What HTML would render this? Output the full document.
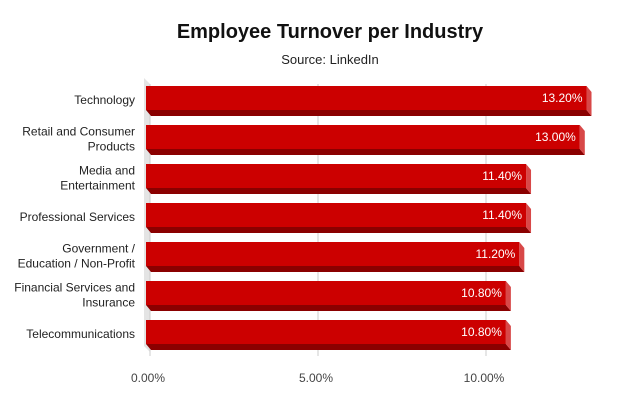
<!DOCTYPE html>
<html><head><meta charset="utf-8"><style>
body{margin:0;background:#fff;font-family:"Liberation Sans",sans-serif}
</style></head><body>
<svg width="640" height="402" xmlns="http://www.w3.org/2000/svg">
<text x="330" y="38" text-anchor="middle" font-size="20" font-weight="bold" fill="#111">Employee Turnover per Industry</text>
<text x="330" y="64" text-anchor="middle" font-size="13" fill="#222">Source: LinkedIn</text>
<g id="g"></g>
</svg>
<script>
const categories=[["Technology"],["Retail and Consumer","Products"],["Media and","Entertainment"],["Professional Services"],["Government /","Education / Non-Profit"],["Financial Services and","Insurance"],["Telecommunications"]];
const values=[13.2,13.0,11.4,11.4,11.2,10.8,10.8];
const ticks=[0,5,10];
const tickLabels=["0.00%","5.00%","10.00%"];
const NS="http://www.w3.org/2000/svg";
const g=document.getElementById('g');
const x=v=>148+v*33.6;
const yc=i=>100+i*39;
function mk(t,a){const e=document.createElementNS(NS,t);for(const k in a)e.setAttribute(k,a[k]);g.appendChild(e);return e;}
const wall=mk('polygon',{points:"144,78 150,84 150,352 144,346",fill:"#e4e4e4"});


ticks.forEach((t,i)=>{
 const l=mk('line',{x1:x(t)+2,x2:x(t)+2,y1:84,y2:356,stroke:"#ccc","stroke-width":1});
 
 
 const tx=mk('text',{x:x(t),y:382,"text-anchor":"middle","font-size":12,fill:"#444"});
 tx.textContent=tickLabels[i];
 
 
});
values.forEach((v,i)=>{
 const c=yc(i),top=c-14,bot=c+10,x1=x(v)-5;
 const f=mk('rect',{x:146,y:top,width:x1-146,height:bot-top,fill:"#cc0000"});
 
 
 const s=mk('polygon',{points:`146,${bot} ${x1},${bot} ${x1+5},${bot+6} 151,${bot+6}`,fill:"#8a0000"});
 
 
 const r=mk('polygon',{points:`${x1},${top} ${x1+5},${top+6} ${x1+5},${bot+6} ${x1},${bot}`,fill:"#d84848"});
 
 
 const lb=mk('text',{x:x1-4,y:c+2,"text-anchor":"end","font-size":12,fill:"#fff"});
 lb.textContent=v.toFixed(2)+"%";
 
 
 const lines=categories[i];
 lines.forEach((ln,j)=>{
  const t=mk('text',{x:135,y:c+4+(j-(lines.length-1)/2)*15,"text-anchor":"end","font-size":12,fill:"#222"});
  t.textContent=ln;
  
  
 });
});
</script>
</body></html>
